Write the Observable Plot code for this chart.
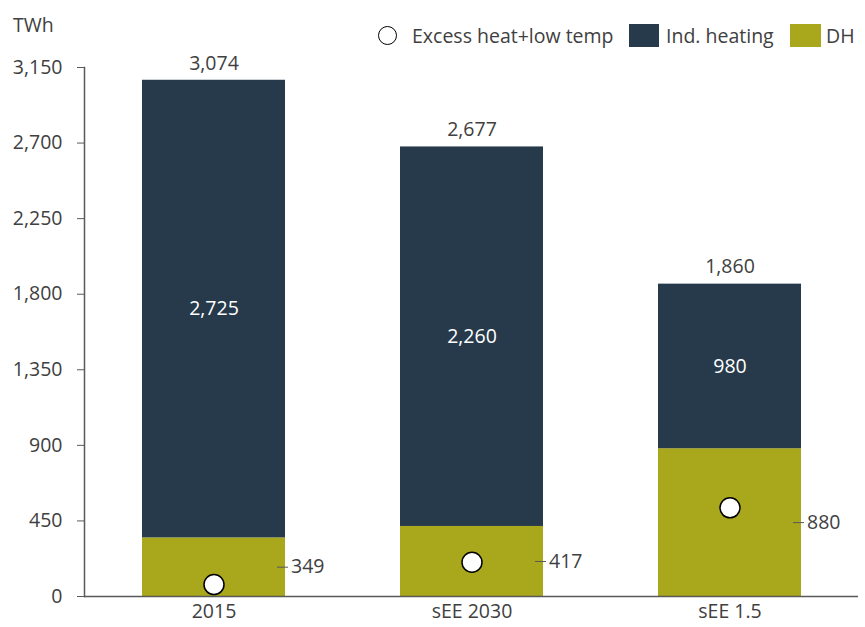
<!DOCTYPE html>
<html>
<head>
<meta charset="utf-8">
<script src="https://cdn.jsdelivr.net/npm/d3@7"></script>
<script src="https://cdn.jsdelivr.net/npm/@observablehq/plot@0.6"></script>
<style>
  body { margin: 0; background: #fff; }
  #wrap { position: relative; width: 865px; height: 627px; font-family: "Open Sans", "Noto Sans", sans-serif; color: #404040; }
  #chart { position: absolute; left: 0; top: 0; }
  .lg { position: absolute; font-size: 19.5px; line-height: 1; white-space: nowrap; }
  .sw { position: absolute; }
</style>
</head>
<body>
<div id="wrap">
  <div id="chart"></div>
  <div class="lg" style="left:13px; top:15px;">TWh</div>
  <div class="sw" style="left:378px; top:26px; width:17px; height:17px; border:1.5px solid #000; border-radius:50%; background:#fff;"></div>
  <div class="lg" style="left:412px; top:26px;">Excess heat+low temp</div>
  <div class="sw" style="left:629px; top:24px; width:30px; height:23px; background:#263a4b;"></div>
  <div class="lg" style="left:666px; top:26px;">Ind. heating</div>
  <div class="sw" style="left:790px; top:24px; width:31px; height:23px; background:#a9a71b;"></div>
  <div class="lg" style="left:826px; top:26px;">DH</div>
</div>
<script>
const categories = ["2015", "sEE 2030", "sEE 1.5"];
const dhValues = [349, 417, 880];
const indValues = [2725, 2260, 980];
const totalValues = [3074, 2677, 1860];
const excessValues = [71, 204, 528];
const yTicks = [0, 450, 900, 1350, 1800, 2250, 2700, 3150];

const navy = "#263a4b";
const olive = "#a9a71b";
const fmt = d3.format(",");

const rows = [];
categories.forEach((c, i) => {
  rows.push({cat: c, series: "DH", value: dhValues[i], base: 0});
  rows.push({cat: c, series: "Ind. heating", value: indValues[i], base: dhValues[i]});
});
const dhRows = rows.filter(d => d.series === "DH");
const indRows = rows.filter(d => d.series === "Ind. heating");
const totalRows = categories.map((c, i) => ({cat: c, value: totalValues[i]}));
const excessRows = categories.map((c, i) => ({cat: c, value: excessValues[i]}));

const chart = Plot.plot({
  width: 865,
  height: 627,
  marginTop: 67,
  marginBottom: 31,
  marginLeft: 84,
  marginRight: 7,
  style: {fontFamily: '"Open Sans", "Noto Sans", sans-serif', fontSize: "19.5px", color: "#404040", background: "transparent"},
  x: {domain: categories, paddingInner: 0.446, paddingOuter: 0.223, label: null},
  y: {domain: [0, 3150], label: null},
  marks: [
    Plot.rectY(rows, {x: "cat", y1: "base", y2: d => d.base + d.value, fill: d => d.series === "DH" ? olive : navy}),
    Plot.ruleY([0], {stroke: "#595959", strokeWidth: 1.5}),
    Plot.frame({anchor: "left", stroke: "#595959", strokeWidth: 1.5}),
    Plot.axisY({ticks: yTicks, tickSize: 7, tickPadding: 15, tickFormat: fmt, label: null, stroke: "#595959", fill: "#404040", fontSize: 19.5}),
    Plot.axisX({tickSize: 0, tickPadding: 8, label: null, fill: "#404040", fontSize: 19.5}),
    Plot.text(indRows, {x: "cat", y: d => d.base + d.value / 2, text: d => fmt(d.value), fill: "white", fontSize: 19.5}),
    Plot.text(totalRows, {x: "cat", y: "value", text: d => fmt(d.value), dy: -17, fill: "#404040", fontSize: 19.5}),
    Plot.tickY(dhRows, {x: "cat", y: d => d.value / 2, insetLeft: 135, insetRight: -3, stroke: "#595959", strokeWidth: 1}),
    Plot.text(dhRows, {x: "cat", y: d => d.value / 2, text: d => fmt(d.value), dx: 77, textAnchor: "start", fill: "#404040", fontSize: 19.5}),
    Plot.dot(excessRows, {x: "cat", y: "value", r: 10, fill: "white", stroke: "black", strokeWidth: 1.5})
  ]
});
document.getElementById("chart").appendChild(chart);
</script>
</body>
</html>
